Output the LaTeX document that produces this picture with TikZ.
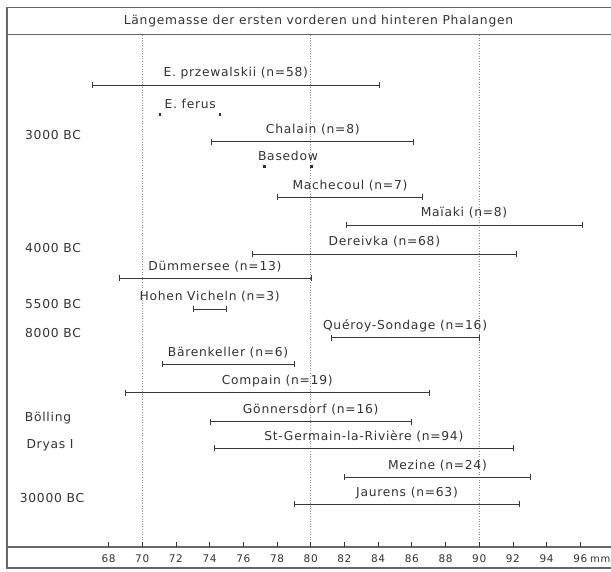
\documentclass[tikz,border=0pt]{standalone}
\usepackage{fontspec}
\setmainfont{DejaVu Sans}[LetterSpace=6]
\usetikzlibrary{arrows.meta}

\begin{document}
\begin{tikzpicture}[x=1pt,y=-1pt,
	ink/.style={draw=black!78,line width=0.8pt},
	box/.style={draw=black!60,line width=1.1pt},
	guide/.style={draw=black!45,dotted,line width=0.6pt},
	rangebar/.style={draw=black!78,line width=0.85pt,{Bar[width=6pt]}-{Bar[width=6pt]}},
	dot/.style={rectangle,fill=black!80,inner sep=0pt,minimum size=2.4pt},
	lab/.style={anchor=base,inner sep=0pt,yshift=8pt,text=black!80,font=\fontsize{12.3}{14}\selectfont},
	era/.style={anchor=base,inner sep=0pt,text=black!80,font=\fontsize{12.3}{14}\selectfont},
	ticklab/.style={anchor=base,inner sep=0pt,text=black!80,font=\fontsize{10.5}{12}\selectfont}]
		\useasboundingbox (0,0) rectangle (611,572);

		% frame, title band and axis line
		\draw[box] (7,7.5) rectangle (640,568);
		\draw[box] (7,34.5) -- (640,34.5);
		\draw[box] (7,547) -- (640,547);
		\node[era,anchor=center]	(title)	at (318.5,21)	{Längemasse der ersten vorderen und hinteren Phalangen};

		% periods
		\node[era]	(p3000)		at (53,139.5)	{3000 BC};
		\node[era]	(p4000)		at (53,252.8)	{4000 BC};
		\node[era]	(p5500)		at (53,308.5)	{5500 BC};
		\node[era]	(p8000)		at (53,337.2)	{8000 BC};
		\node[era]	(boelling)	at (48,421.2)	{Bölling};
		\node[era]	(dryas)		at (50,448.5)	{Dryas I};
		\node[era]	(p30000)	at (52,502.8)	{30000 BC};

		\begin{scope}[x=16.85pt,xshift=-1037.3pt]
		\draw[guide] (70,35) -- (70,547);
		\draw[guide] (80,35) -- (80,547);
		\draw[guide] (90,35) -- (90,547);

		\foreach \v in {68,70,...,96} {
			\draw[ink] (\v,547) -- (\v,542);
			\node[ticklab]	(t\v)	at (\v,562)	{\v};
		}

		\coordinate (prz-l) at (67,85);		\coordinate (prz-r) at (84.1,85);
		\coordinate (cha-l) at (74.1,141.7);	\coordinate (cha-r) at (86.15,141.7);
		\coordinate (mac-l) at (77.98,197.3);	\coordinate (mac-r) at (86.68,197.3);
		\coordinate (mai-l) at (82.07,225);	\coordinate (mai-r) at (96.13,225);
		\coordinate (der-l) at (76.52,254);	\coordinate (der-r) at (92.23,254);
		\coordinate (dum-l) at (68.6,278.3);	\coordinate (dum-r) at (80.04,278.3);
		\coordinate (hoh-l) at (72.99,309);	\coordinate (hoh-r) at (75.02,309);
		\coordinate (que-l) at (81.19,337.7);	\coordinate (que-r) at (90.01,337.7);
		\coordinate (bae-l) at (71.15,364);	\coordinate (bae-r) at (79.04,364);
		\coordinate (com-l) at (68.95,392.7);	\coordinate (com-r) at (87.08,392.7);
		\coordinate (goe-l) at (74,421.7);	\coordinate (goe-r) at (86,421.7);
		\coordinate (stg-l) at (74.26,448.3);	\coordinate (stg-r) at (92.04,448.3);
		\coordinate (mez-l) at (82,477.3);	\coordinate (mez-r) at (93.04,477.3);
		\coordinate (jau-l) at (79,504);		\coordinate (jau-r) at (92.43,504);

		\node[dot]	(fer-l)	at (71.07,114.7)	{};
		\node[dot]	(fer-r)	at (74.63,114.7)	{};
		\node[dot]	(bas-l)	at (77.26,166.7)	{};
		\node[dot]	(bas-r)	at (80.04,166.7)	{};

		\draw[rangebar] (prz-l) -- node[lab] (prz) {E. przewalskii (n=58)} (prz-r);
		\path (fer-l) -- node[lab,yshift=-1.5pt] (fer) {E. ferus} (fer-r);
		\draw[rangebar] (cha-l) -- node[lab] (cha) {Chalain (n=8)} (cha-r);
		\path (bas-l) -- node[lab,yshift=-2pt] (bas) {Basedow} (bas-r);
		\draw[rangebar] (mac-l) -- node[lab] (mac) {Machecoul (n=7)} (mac-r);
		\draw[rangebar] (mai-l) -- node[lab] (mai) {Maïaki (n=8)} (mai-r);
		\draw[rangebar] (der-l) -- node[lab] (der) {Dereivka (n=68)} (der-r);
		\draw[rangebar] (dum-l) -- node[lab] (dum) {Dümmersee (n=13)} (dum-r);
		\draw[rangebar] (hoh-l) -- node[lab] (hoh) {Hohen Vicheln (n=3)} (hoh-r);
		\draw[rangebar] (que-l) -- node[lab] (que) {Quéroy-Sondage (n=16)} (que-r);
		\draw[rangebar] (bae-l) -- node[lab] (bae) {Bärenkeller (n=6)} (bae-r);
		\draw[rangebar] (com-l) -- node[lab] (com) {Compain (n=19)} (com-r);
		\draw[rangebar] (goe-l) -- node[lab] (goe) {Gönnersdorf (n=16)} (goe-r);
		\draw[rangebar] (stg-l) -- node[lab] (stg) {St-Germain-la-Rivière (n=94)} (stg-r);
		\draw[rangebar] (mez-l) -- node[lab] (mez) {Mezine (n=24)} (mez-r);
		\draw[rangebar] (jau-l) -- node[lab] (jau) {Jaurens (n=63)} (jau-r);
		\end{scope}

		\node[ticklab,anchor=base west,font=\fontsize{10}{12}\selectfont]	(unit)	at (590,562)	{mm};
	\end{tikzpicture}
\end{document}
